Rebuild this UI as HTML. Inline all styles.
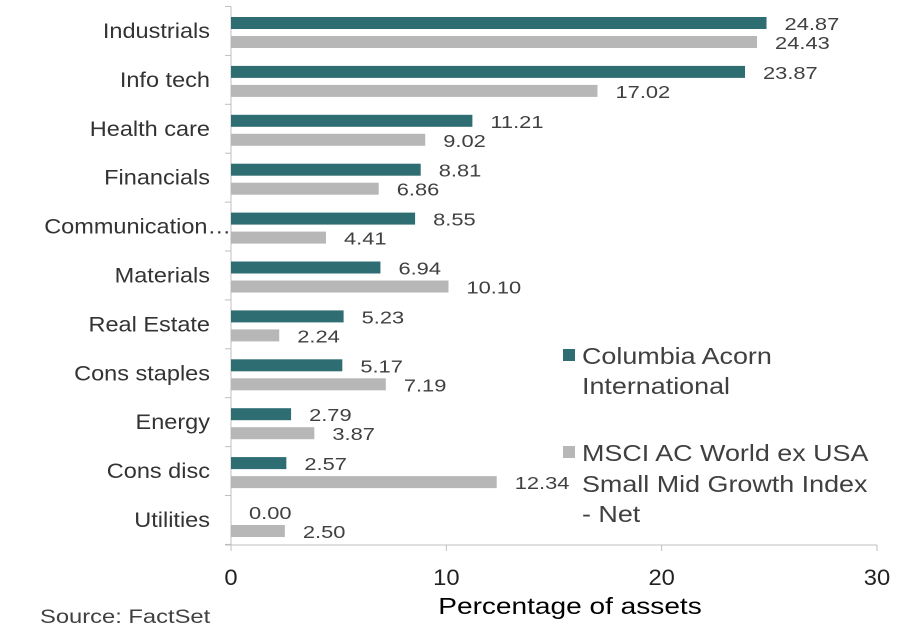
<!DOCTYPE html>
<html><head><meta charset="utf-8"><style>
body{margin:0;background:#fff;}
svg{display:block;font-family:"Liberation Sans",sans-serif;}
</style></head><body>
<svg id="c" width="904" height="636"></svg>
<script>
const categories=["Industrials","Info tech","Health care","Financials","Communication…","Materials","Real Estate","Cons staples","Energy","Cons disc","Utilities"];
const fundValues=[24.87,23.87,11.21,8.81,8.55,6.94,5.23,5.17,2.79,2.57,0.00];
const indexValues=[24.43,17.02,9.02,6.86,4.41,10.10,2.24,7.19,3.87,12.34,2.50];
const xTicks=[0,10,20,30];
const svg=document.getElementById('c');
const NS='http://www.w3.org/2000/svg';
function mk(t,a,txt){const e=document.createElementNS(NS,t);for(const k in a)e.setAttribute(k,a[k]);if(txt!=null)e.textContent=txt;svg.appendChild(e);return e;}
function tx(x,y,sx,a,txt){a.x=0;a.y=0;a.transform='translate('+x+','+y+') scale('+sx+',1)';return mk('text',a,txt);}
const x0=231,x1=877,xMax=30;
function xs(v){return x0+v/xMax*(x1-x0);}
const rowTop=31,rowStep=48.9;
function yc(i){return rowTop+i*rowStep;}
const axisY=545;
let e;
e=mk('line',{x1:x0,x2:x0,y1:yc(0)-24.5,y2:axisY,stroke:'#bfbfbf','stroke-width':1});

e=mk('line',{x1:x0-6,x2:x1,y1:axisY,y2:axisY,stroke:'#bfbfbf','stroke-width':1});

for(let i=0;i<=categories.length;i++){
  const y=yc(i)-24.5;
  e=mk('line',{x1:x0-6,x2:x0,y1:y,y2:y,stroke:'#bfbfbf'});
  
}
xTicks.forEach(t=>{
  e=mk('line',{x1:xs(t),x2:xs(t),y1:axisY,y2:axisY+6,stroke:'#bfbfbf'});
  
  e=tx(xs(t),585,1.08,{'text-anchor':'middle','font-size':22,fill:'#222'},String(t));
  
});
categories.forEach((c,i)=>{
  const y=yc(i);
  e=tx(c.endsWith('…')?231:210,y+7,1.12,{'text-anchor':'end','font-size':21,fill:'#333'},c);
  
  e=mk('rect',{x:x0,y:y-14,width:xs(fundValues[i])-x0,height:12,fill:'#2e6e73'});
  
  e=tx(xs(fundValues[i])+18,y-1,1.25,{'font-size':17.5,fill:'#404040'},fundValues[i].toFixed(2));
  
  e=mk('rect',{x:x0,y:y+5,width:xs(indexValues[i])-x0,height:12,fill:'#b7b7b7'});
  
  e=tx(xs(indexValues[i])+18,y+18,1.25,{'font-size':17.5,fill:'#404040'},indexValues[i].toFixed(2));
  
});
e=tx(570,614,1.22,{'text-anchor':'middle','font-size':23,fill:'#000'},'Percentage of assets');

e=tx(40,623,1.25,{'font-size':19,fill:'#404040'},'Source: FactSet');

e=mk('rect',{x:563,y:349,width:12,height:12,fill:'#2e6e73'});

[['Columbia Acorn',364],['International',394]].forEach(([t,y])=>{
  e=tx(582,y,1.17,{'font-size':23,fill:'#404040'},t);
  
});
e=mk('rect',{x:563,y:446,width:12,height:12,fill:'#b7b7b7'});

[['MSCI AC World ex USA',461],['Small Mid Growth Index',492],['- Net',522]].forEach(([t,y])=>{
  e=tx(582,y,1.17,{'font-size':23,fill:'#404040'},t);
  
});
</script>
</body></html>
